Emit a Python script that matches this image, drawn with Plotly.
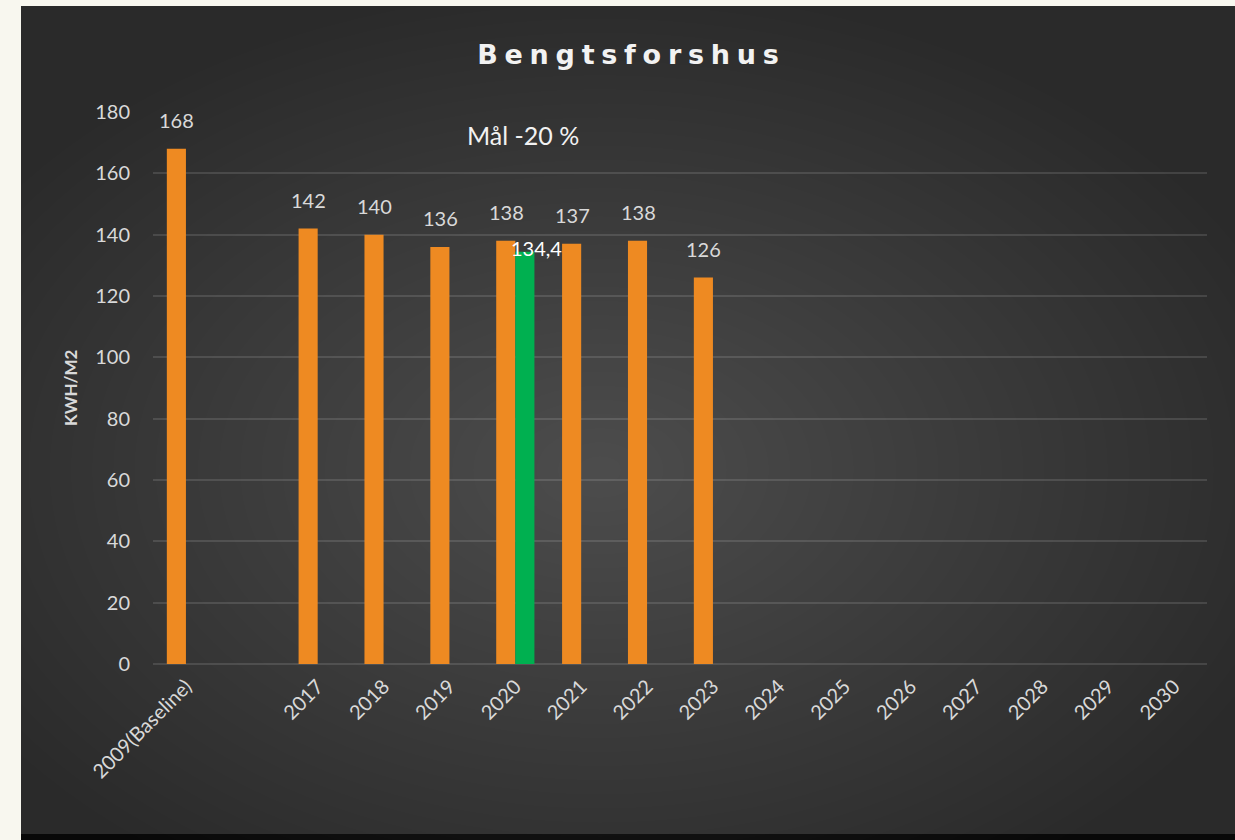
import plotly.graph_objects as go

# ---- data ----
categories = ["2009(Baseline)", " ", "2017", "2018", "2019", "2020", "2021", "2022",
              "2023", "2024", "2025", "2026", "2027", "2028", "2029", "2030"]
actual = [168, None, 142, 140, 136, 138, 137, 138, 126,
          None, None, None, None, None, None, None]
goal = [None, None, None, None, None, 134.4, None, None, None,
        None, None, None, None, None, None, None]
goal_label = "134,4"
title_text = "Bengtsforshus"
target_text = "Mål -20 %"
y_title = "KWH/M2"

W, H = 1235, 840
L, R, T, B = 153, 28, 112, 176
PW, PH = W - L - R, H - T - B


def px(xp):
    return (xp - L) / PW


def py(yp):
    return (H - B - yp) / PH


FONT = "Lato, 'Open Sans', sans-serif"
TITLE_FONT = "'DejaVu Sans', Lato, sans-serif"
TICK_COL = "#d9d9d9"

fig = go.Figure()
fig.add_trace(go.Bar(x=categories, y=actual, marker=dict(color="#ee8a22", line=dict(width=0)),
                     name="actual", hoverinfo="x+y"))
fig.add_trace(go.Bar(x=categories, y=goal, marker=dict(color="#00b050", line=dict(width=0)),
                     name="goal", hoverinfo="x+y"))

shapes = []
shapes.append(dict(type="rect", xref="paper", yref="paper", x0=px(21), x1=px(1240), y0=py(834), y1=py(6),
                   fillcolor="#2a2a2a", line=dict(width=0), layer="below"))
shapes.append(dict(type="rect", xref="paper", yref="paper", x0=px(21), x1=px(1240), y0=py(845), y1=py(834),
                   fillcolor="#080808", line=dict(width=0), layer="below"))
# radial-ish gradient with stacked translucent ellipses
cx, cy = 600, 470
n = 34
for i in range(n):
    f = 1 - i / n
    rx, ry = 720 * f, 480 * f
    shapes.append(dict(type="circle", xref="paper", yref="paper",
                       x0=px(cx - rx), x1=px(cx + rx),
                       y0=py(cy + ry), y1=py(cy - ry),
                       fillcolor="rgba(255,255,255,0.0066)", line=dict(width=0), layer="below"))
# restore cream border outside panel
shapes.append(dict(type="rect", xref="paper", yref="paper", x0=px(-5), x1=px(21), y0=py(850), y1=py(-5),
                   fillcolor="#f8f7ef", line=dict(width=0), layer="below"))
shapes.append(dict(type="rect", xref="paper", yref="paper", x0=px(-5), x1=px(1240), y0=py(6), y1=py(-5),
                   fillcolor="#f8f7ef", line=dict(width=0), layer="below"))

annotations = []
for i, v in enumerate(actual):
    if v is not None:
        annotations.append(dict(x=i, y=v, xref="x", yref="y", text=str(v), showarrow=False,
                                xshift=-9, yshift=15, yanchor="bottom",
                                font=dict(family=FONT, size=20, color=TICK_COL)))
for i, v in enumerate(goal):
    if v is not None:
        annotations.append(dict(x=i, y=v, xref="x", yref="y", text=goal_label, showarrow=False,
                                xshift=21, yshift=4, yanchor="middle",
                                font=dict(family=FONT, size=20, color="#ffffff")))
annotations.append(dict(x=px(523), y=py(135), xref="paper", yref="paper", text=target_text,
                        showarrow=False, xanchor="center", yanchor="middle",
                        font=dict(family=FONT, size=25, color="#f2f2f2")))
annotations.append(dict(x=px(70), y=py(388), xref="paper", yref="paper", text="<b>" + y_title + "</b>",
                        showarrow=False, textangle=-90, xanchor="center", yanchor="middle",
                        font=dict(family=FONT, size=17, color=TICK_COL)))

spaced_title = "\u2005".join(title_text)

fig.update_layout(
    width=W, height=H,
    margin=dict(l=L, r=R, t=T, b=B, autoexpand=False),
    paper_bgcolor="#f8f7ef",
    plot_bgcolor="rgba(0,0,0,0)",
    barmode="group", bargap=0.42, bargroupgap=0,
    showlegend=False,
    shapes=shapes,
    annotations=annotations,
    title=dict(text="<b>" + spaced_title + "</b>", x=628 / W, xanchor="center",
               y=(H - 55) / H, yanchor="middle",
               font=dict(family=TITLE_FONT, size=27, color="#f2f2f2")),
    xaxis=dict(type="category", categoryorder="array", categoryarray=categories,
               range=[-0.5, len(categories) - 0.5], autorange=False,
               tickangle=-45, showgrid=False, showline=False, zeroline=False,
               tickfont=dict(family=FONT, size=20, color=TICK_COL), ticks="",
               ticklabelstandoff=6, fixedrange=True),
    yaxis=dict(range=[0, 180], autorange=False, dtick=20, showgrid=True,
               gridcolor="rgba(255,255,255,0.12)",
               gridwidth=2, zeroline=True, zerolinecolor="rgba(255,255,255,0.12)", zerolinewidth=2,
               showline=False, ticks="", ticklabelstandoff=22,
               tickfont=dict(family=FONT, size=20, color=TICK_COL), fixedrange=True),
)

fig.write_html("out.html", config={"displayModeBar": False},
               post_script="document.body.style.margin='0';document.body.style.overflow='hidden';")
